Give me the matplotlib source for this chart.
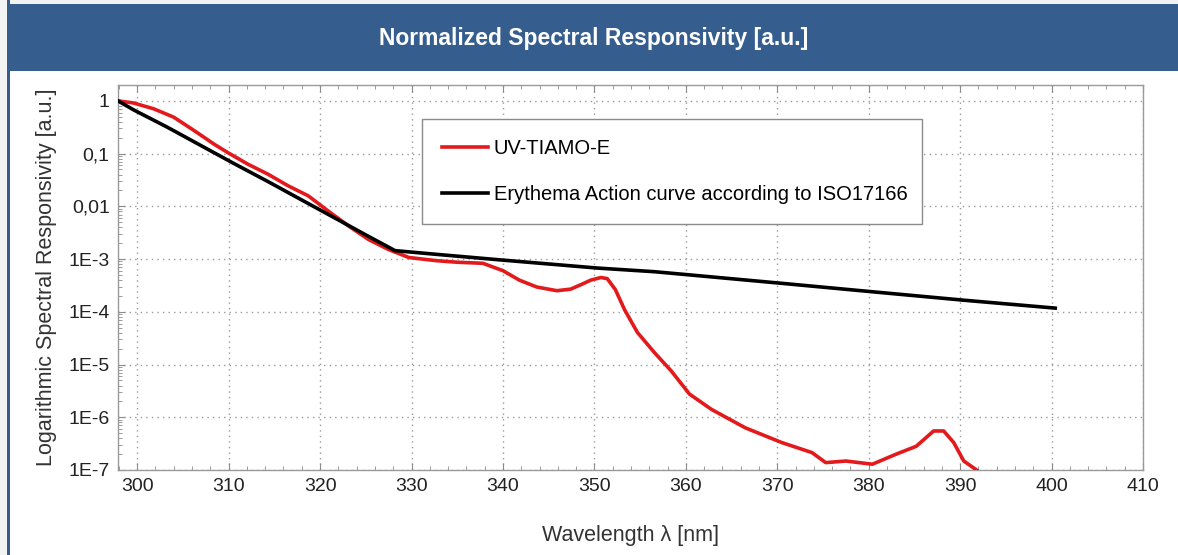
import numpy as np
import matplotlib
matplotlib.use('Agg')
import matplotlib.pyplot as plt
from matplotlib.patches import Rectangle
from matplotlib.ticker import FixedLocator, MultipleLocator, LogLocator, NullFormatter

plt.rcParams['font.family'] = ['Liberation Sans', 'DejaVu Sans']

# UV-TIAMO-E (red)
tiamo_nm = [297.9, 299.6, 301.8, 304.0, 306.2, 308.4, 309.9, 312.1, 314.3, 316.5,
            318.7, 320.9, 323.1, 325.3, 327.5, 329.7, 332.7, 335.0, 337.8, 340.0,
            341.8, 343.7, 345.9, 347.4, 348.6, 349.6, 350.7, 351.4, 352.3, 353.3,
            354.7, 356.6, 358.4, 360.4, 362.8, 366.5, 370.5, 373.8, 375.3, 377.5,
            380.4, 383.0, 385.2, 387.1, 388.2, 389.3, 390.4, 391.8]
tiamo_log = [0.0, -0.04, -0.15, -0.31, -0.56, -0.82, -0.98, -1.20, -1.39, -1.61,
             -1.80, -2.09, -2.37, -2.63, -2.82, -2.97, -3.03, -3.06, -3.08, -3.22,
             -3.40, -3.53, -3.60, -3.57, -3.48, -3.40, -3.35, -3.37, -3.58, -3.96,
             -4.39, -4.78, -5.12, -5.56, -5.85, -6.20, -6.48, -6.67, -6.86, -6.83,
             -6.89, -6.70, -6.55, -6.26, -6.26, -6.48, -6.83, -7.0]

# Erythema action curve ISO17166 (black)
ery_nm = [297.9, 299.6, 303.3, 307.0, 310.6, 314.3, 318.0, 321.6, 325.3, 328.2,
          332.7, 340.0, 350.3, 356.6, 360.4, 370.5, 380.4, 390.4, 400.4]
ery_log = [0.0, -0.17, -0.50, -0.85, -1.19, -1.53, -1.88, -2.22, -2.57, -2.84,
           -2.91, -3.02, -3.17, -3.24, -3.30, -3.46, -3.62, -3.78, -3.93]

y_ticks = [1e-7, 1e-6, 1e-5, 1e-4, 1e-3, 1e-2, 1e-1, 1]
y_labels = ['1E-7', '1E-6', '1E-5', '1E-4', '1E-3', '0,01', '0,1', '1']
x_ticks = [300, 310, 320, 330, 340, 350, 360, 370, 380, 390, 400, 410]

W, H = 1178, 555
fig = plt.figure(figsize=(W / 100, H / 100), dpi=100, facecolor='white')

# page background + header band + left border
fig.patches.append(Rectangle((0, 0), 1, 1, transform=fig.transFigure,
                             facecolor='#f3f3f3', edgecolor='none', zorder=-3))
fig.patches.append(Rectangle((9 / W, 0), 1, 1 - 71 / H, transform=fig.transFigure,
                             facecolor='white', edgecolor='none', zorder=-2))
fig.patches.append(Rectangle((7 / W, 1 - 71 / H), 1, 67 / H, transform=fig.transFigure,
                             facecolor='#355e8e', edgecolor='none', zorder=-1))
fig.patches.append(Rectangle((7 / W, 0), 2.5 / W, 1, transform=fig.transFigure,
                             facecolor='#355e8e', edgecolor='none', zorder=-1))
fig.text(594 / W, 1 - 38 / H, 'Normalized Spectral Responsivity [a.u.]',
         color='white', fontsize=16.5, fontweight='bold', ha='center', va='center')

ax = fig.add_axes([118 / W, 1 - 470 / H, (1143 - 118) / W, (470 - 85) / H])
ax.plot(tiamo_nm, np.power(10.0, tiamo_log), color='#e3191c', lw=2.6,
        label='UV-TIAMO-E', zorder=3)
ax.plot(ery_nm, np.power(10.0, ery_log), color='black', lw=2.6,
        label='Erythema Action curve according to ISO17166', zorder=3)

ax.set_yscale('log')
ax.set_xlim(297.9, 410)
ax.set_ylim(1e-7, 2.0)
ax.xaxis.set_major_locator(FixedLocator(x_ticks))
ax.xaxis.set_minor_locator(MultipleLocator(2))
ax.yaxis.set_major_locator(FixedLocator(y_ticks))
ax.set_yticklabels(y_labels)
ax.yaxis.set_minor_locator(LogLocator(base=10, subs=np.arange(2, 10), numticks=20))
ax.yaxis.set_minor_formatter(NullFormatter())

ax.tick_params(which='both', direction='in', colors='#8a8a8a', labelcolor='#222222',
               top=True, right=False)
ax.tick_params(which='major', length=5, labelsize=14, width=0.8)
ax.tick_params(which='minor', length=3, width=0.6)
ax.tick_params(axis='x', pad=6)
ax.tick_params(axis='y', pad=6)
for s in ax.spines.values():
    s.set_color('#9a9a9a')
    s.set_linewidth(1.0)

ax.grid(True, which='major', color='#9a9a9a', linestyle=(0, (1, 3)), lw=1.0)

ax.set_xlabel('Wavelength λ [nm]', fontsize=15.5, color='#333333', labelpad=21)
ax.set_ylabel('Logarithmic Spectral Responsivity [a.u.]', fontsize=15.5,
              color='#333333', labelpad=8)

leg = ax.legend(loc='upper left', bbox_to_anchor=(0.2966, 0.6416, 0.4874, 0.2701),
                mode='expand', fontsize=14.5, frameon=True, fancybox=False,
                edgecolor='#8a8a8a', framealpha=1, handlelength=2.3,
                handletextpad=0.25, labelspacing=1.35, borderpad=1.0,
                borderaxespad=0)
leg.get_frame().set_linewidth(1.0)
leg.set_zorder(4)

fig.savefig('out.png', dpi=100, facecolor=fig.get_facecolor())
